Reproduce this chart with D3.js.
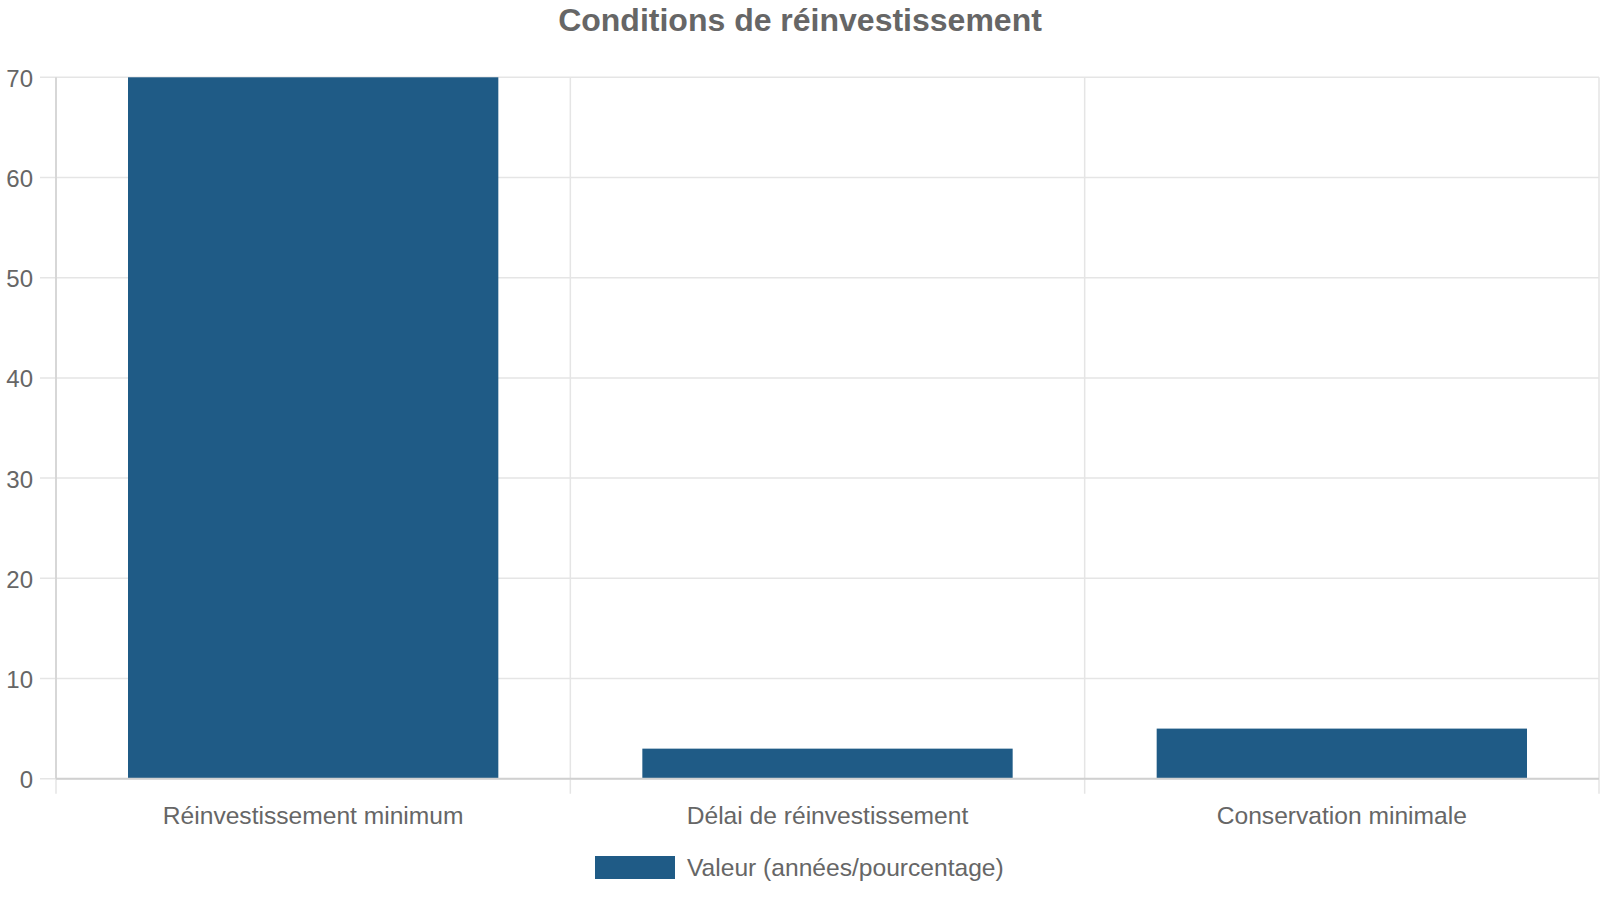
<!DOCTYPE html>
<html>
<head>
<meta charset="utf-8">
<script src="https://cdn.jsdelivr.net/npm/d3@7"></script>
<style>
  html, body { margin: 0; padding: 0; background: #fff; }
  svg { display: block; }
  text { font-family: "Liberation Sans", Arial, sans-serif; fill: #666; }
</style>
</head>
<body>
<svg id="chart" width="1600" height="900"></svg>
<script>
const categories = ["Réinvestissement minimum", "Délai de réinvestissement", "Conservation minimale"];
const values = [70, 3, 5];
const yTicks = [0, 10, 20, 30, 40, 50, 60, 70];
const seriesName = "Valeur (années/pourcentage)";
const chartTitle = "Conditions de réinvestissement";

const W = 1600, H = 900;
const m = { left: 56, right: 1, top: 77.3, bottom: 121.3 };
const svg = d3.select("#chart");
const color = "#1f5b86";

const x = d3.scaleBand().domain(categories).range([m.left, W - m.right]).paddingInner(0).paddingOuter(0);
const y = d3.scaleLinear().domain([0, 70]).range([H - m.bottom, m.top]);

// horizontal grid
const gGrid = svg.append("g");
gGrid.selectAll("line.h").data(yTicks).join("line")
  .attr("x1", m.left - 16).attr("x2", W - m.right)
  .attr("y1", d => y(d)).attr("y2", d => y(d))
  .attr("stroke", "#e5e5e5").attr("stroke-width", 1.5);

// vertical grid (category boundaries)
const bounds = categories.map(c => x(c)).concat([x(categories[categories.length - 1]) + x.bandwidth()]);
gGrid.selectAll("line.v").data(bounds).join("line")
  .attr("x1", d => d).attr("x2", d => d)
  .attr("y1", m.top).attr("y2", H - m.bottom + 15)
  .attr("stroke", "#e5e5e5").attr("stroke-width", 1.5);

// bars
const bw = x.bandwidth() * 0.72;
svg.append("g").selectAll("rect").data(values).join("rect")
  .attr("x", (d, i) => x(categories[i]) + (x.bandwidth() - bw) / 2)
  .attr("width", bw)
  .attr("y", d => y(d))
  .attr("height", d => y(0) - y(d))
  .attr("fill", color);

// axis border lines
svg.append("line").attr("x1", m.left).attr("x2", m.left).attr("y1", m.top).attr("y2", y(0))
  .attr("stroke", "#d0d0d0").attr("stroke-width", 1.5);
svg.append("line").attr("x1", m.left).attr("x2", W - m.right).attr("y1", y(0)).attr("y2", y(0))
  .attr("stroke", "#d0d0d0").attr("stroke-width", 2);

// y tick labels
svg.append("g").selectAll("text").data(yTicks).join("text")
  .attr("x", 33).attr("y", d => y(d) + 1)
  .attr("text-anchor", "end").attr("dominant-baseline", "central")
  .style("font-size", "24px")
  .text(d => d);

// x tick labels
svg.append("g").selectAll("text").data(categories).join("text")
  .attr("x", d => x(d) + x.bandwidth() / 2).attr("y", 824)
  .attr("text-anchor", "middle")
  .style("font-size", "24.6px")
  .text(d => d);

// title
svg.append("text").attr("x", 800).attr("y", 30.5).attr("text-anchor", "middle")
  .style("font-size", "32px").style("font-weight", "bold")
  .text(chartTitle);

// legend
const lg = svg.append("g");
lg.append("rect").attr("x", 595).attr("y", 856).attr("width", 80).attr("height", 23).attr("fill", color);
lg.append("text").attr("x", 687).attr("y", 876).style("font-size", "24.6px").text(seriesName);
</script>
</body>
</html>
